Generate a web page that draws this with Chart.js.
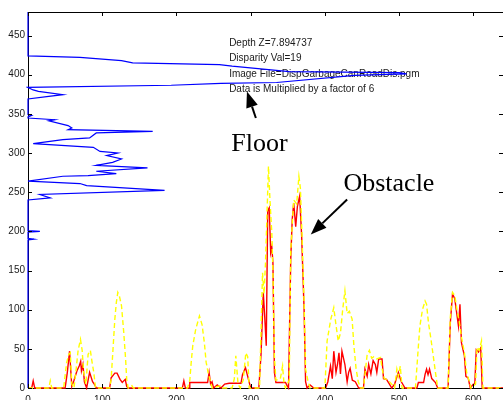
<!DOCTYPE html>
<html>
<head>
<meta charset="utf-8">
<script src="https://cdn.jsdelivr.net/npm/chart.js@4.4.1/dist/chart.umd.min.js"></script>
<style>
    html, body { margin: 0; padding: 0; background: #fff; }
    #wrap { width: 503px; height: 400px; }
</style>
</head>
<body>
<div id="wrap"><canvas id="profile-chart" width="503" height="400"></canvas></div>
<script>
/*************************/
/**   Data              **/
/*************************/

// blue profile: value per image row (drawn sideways)
var blueRows = [480, 424, 422, 418, 415, 412.7, 410.8, 404, 402.5, 401, 399, 390, 389, 386.5, 383.7,
    380.5, 378.6, 374.4, 372.3, 369, 349, 348, 346, 344.7, 342.5, 341, 335, 332, 329.8, 327.6,
    325.6, 319.2, 317, 312, 307.3, 302, 300, 296.7, 292.4, 288, 284.3, 281, 276.7, 273.7, 271,
    270.3, 264, 261, 258.4, 252.4, 247, 242.7, 240, 201, 200, 199, 191, 190, 189, 0];
var blueVals = [0, 0, 70, 126, 141, 258, 275, 352, 500, 510, 440, 335, 260, 193, 0,
    7, 14, 47, 28, 0, 0, 5, 0, 0, 36, 28, 54, 59, 54, 168,
    92, 83, 47, 7, 88, 97, 121, 106, 126, 114, 92, 161, 92, 119, 81,
    47, 0, 70, 79, 184, 16, 30, 0, 0, 16, 0, 0, 8, 0, 0];

// red profile (solid)
var redCols = [0, 5, 7, 9, 50, 53, 56, 59, 62, 66, 69, 71, 72, 74, 76, 79, 83, 87, 90, 92,
    110, 112, 117, 120, 124, 127, 131, 133, 135, 208, 210, 212, 217, 218, 242, 244, 246, 248, 250,
    255, 260, 265, 271, 287, 289, 293, 296, 300, 311, 314, 317, 319, 321, 323, 325, 327, 328.5,
    330, 332, 334, 347, 349, 351, 354, 356, 358, 360.7, 363, 366, 368.7, 372, 374, 376, 380, 385,
    401, 404, 407.6, 410, 412, 415, 417, 419, 421, 423, 427, 430, 432, 434, 437, 441, 445.6,
    452, 454, 457, 459, 462, 465, 468, 470, 472.5, 477, 479, 483, 487, 490, 494, 499, 503, 508,
    524, 526, 533, 535, 537, 539, 541, 544, 549, 552, 566, 569, 572, 575, 577, 580, 582, 584,
    588, 590, 593, 596, 600, 602, 604, 607, 610, 612, 640];
var redVals = [0, 0, 9, 0, 0, 20, 47, 2, 10, 22, 28, 34, 22, 30, 8, 0, 20, 8, 4, 0,
    0, 13, 19, 19, 11, 7, 11, 2, 0, 0, 9, 0, 0, 7, 7, 20, 5, 8, 0,
    4, 0, 5, 6, 6, 17, 26, 15, 0, 0, 43, 122, 90, 54, 226, 230, 173, 180,
    160, 20, 7, 7, 3, 0, 164, 215, 236, 206, 232, 245, 194, 100, 8, 0, 4, 0,
    0, 8, 28, 12, 47, 20, 30, 45, 18, 47, 30, 8, 20, 25, 10, 8, 0,
    0, 24, 15, 30, 18, 35, 30, 20, 37, 37, 12, 11, 5, 0, 5, 20, 8, 0,
    0, 7, 7, 17.5, 24, 17, 24, 12, 7, 0, 0, 83, 120, 114, 100, 79, 107, 58,
    41, 15, 13, 0, 5, 5, 49, 46, 51, 0, 0];

// yellow profile (dashed)
var yellowCols = [0, 28, 30, 32, 48, 52, 55, 57, 59, 62, 65, 67.5, 70.7, 73, 75, 78, 81, 84, 86, 88.6, 91,
    110, 112, 114.5, 117, 119, 121, 123, 126, 129, 131.5, 133, 135, 140, 142,
    215, 218, 220, 222, 226, 231, 234.5, 237.6, 240, 243, 246, 248, 260, 262,
    275, 278, 280, 283, 286, 290, 293.5, 296, 298, 312, 316, 318, 320, 324, 326, 328.5, 330, 332, 334,
    340, 343, 345, 347, 352, 354, 358, 362, 365, 367, 369, 372, 374, 377, 380,
    400, 403, 408, 412, 415, 418, 421, 424, 427, 430, 433, 436.7, 439, 442, 445, 448,
    452, 457, 460, 463, 466, 470, 475, 477, 480, 485, 490, 494, 497, 499, 501.6, 504,
    522, 526, 528, 531.5, 535, 537, 539.6, 543, 546, 549, 552,
    566, 569, 572, 575, 578, 581, 584, 588, 591, 594, 597, 603, 605, 608, 611, 613, 640];
var yellowVals = [0, 0, 9, 0, 0, 32, 43, 45, 5, 0, 25, 48, 62, 48, 20, 5, 43, 48, 35, 20, 0,
    0, 11, 49, 88, 109, 122, 118, 105, 71, 37, 11, 0, 3, 0,
    0, 10, 34, 54, 75, 92, 81, 58, 33, 18, 8, 0, 3, 0,
    0, 12, 41, 5, 0, 10, 45, 40, 0, 0, 147, 120, 160, 283, 240, 198, 150, 40, 10,
    12, 28, 5, 0, 10, 175, 240, 235, 270, 255, 200, 110, 24, 10, 0,
    0, 60, 88, 102.5, 80, 60, 70, 100, 124, 95, 98, 88, 55, 25, 8, 0,
    0, 43, 48, 38, 40, 37, 39, 25, 12, 10, 5, 0, 24, 15, 28, 0,
    0, 53.5, 79, 100, 111, 107, 83, 62, 41, 20, 0,
    0, 90, 122, 118, 100, 85, 65, 45, 20, 10, 0, 5, 52, 48, 60, 0, 0];

var xTicks = [0, 100, 200, 300, 400, 500, 600];
var yTicks = [0, 50, 100, 150, 200, 250, 300, 350, 400, 450];

var infoLines = ["Depth Z=7.894737", "Disparity Val=19",
    "Image File=DispGarbageCanRoadDis.pgm", "Data is Multiplied by a factor of 6"];

function toPoints(xs, ys) {
    return xs.map(function (v, i) { return { x: v, y: ys[i] }; });
}

/*************************/
/**   Plugins           **/
/*************************/

// text + arrows, placed in data units
var notes = {
    id: 'notes',
    beforeDatasetsDraw: function (chart) {
        var ctx = chart.ctx, x = chart.scales.x, y = chart.scales.y;
        ctx.save();
        ctx.fillStyle = '#1a1a1a';
        ctx.textBaseline = 'middle';
        ctx.font = '10px "Liberation Sans", Arial, sans-serif';
        var left = x.getPixelForValue(271);
        var top = y.getPixelForValue(440.7);
        infoLines.forEach(function (s, i) {
            ctx.fillText(s, left, top + i * 15.5);
        });
        ctx.fillStyle = '#000';
        ctx.textBaseline = 'alphabetic';
        ctx.font = '26px "Liberation Serif", "Times New Roman", serif';
        ctx.fillText('Floor', x.getPixelForValue(274), y.getPixelForValue(302));
        ctx.fillText('Obstacle', x.getPixelForValue(425), y.getPixelForValue(252));
        ctx.restore();
    },
    afterDatasetsDraw: function (chart) {
        var ctx = chart.ctx, x = chart.scales.x, y = chart.scales.y;
        function arrow(x0, y0, x1, y1) {
            var ax = x.getPixelForValue(x0), ay = y.getPixelForValue(y0);
            var bx = x.getPixelForValue(x1), by = y.getPixelForValue(y1);
            var ang = Math.atan2(by - ay, bx - ax);
            var hl = 16, hw = 6;
            var cx = bx - hl * Math.cos(ang), cy = by - hl * Math.sin(ang);
            ctx.beginPath();
            ctx.moveTo(ax, ay);
            ctx.lineTo(cx, cy);
            ctx.stroke();
            ctx.beginPath();
            ctx.moveTo(bx, by);
            ctx.lineTo(cx + hw * Math.sin(ang), cy - hw * Math.cos(ang));
            ctx.lineTo(cx - hw * Math.sin(ang), cy + hw * Math.cos(ang));
            ctx.closePath();
            ctx.fill();
        }
        ctx.save();
        ctx.strokeStyle = '#000';
        ctx.fillStyle = '#000';
        ctx.lineWidth = 2;
        arrow(307, 344.7, 295, 378.6);
        arrow(430, 240.6, 381, 196);
        ctx.restore();
    }
};

// matlab style box with inward ticks
var frameTicks = {
    id: 'frameTicks',
    afterDraw: function (chart) {
        var ctx = chart.ctx, a = chart.chartArea, x = chart.scales.x, y = chart.scales.y;
        ctx.save();
        ctx.strokeStyle = '#000';
        ctx.lineWidth = 1;
        ctx.beginPath();
        ctx.moveTo(a.left, a.top + 0.5);
        ctx.lineTo(a.right, a.top + 0.5);
        xTicks.forEach(function (t) {
            var px = Math.round(x.getPixelForValue(t)) + 0.5;
            ctx.moveTo(px, a.bottom);
            ctx.lineTo(px, a.bottom - 4);
            ctx.moveTo(px, a.top);
            ctx.lineTo(px, a.top + 4);
        });
        yTicks.forEach(function (t) {
            var py = Math.round(y.getPixelForValue(t)) + 0.5;
            ctx.moveTo(a.left, py);
            ctx.lineTo(a.left + 4, py);
            ctx.moveTo(a.right, py);
            ctx.lineTo(a.right - 4, py);
        });
        ctx.stroke();
        ctx.restore();
    }
};

/*************************/
/**   Chart             **/
/*************************/

var ctxP = document.getElementById("profile-chart").getContext('2d');
var myChart = new Chart(ctxP, {
    type: 'scatter',
    data: {
        datasets: [
            {
                data: toPoints(blueVals, blueRows),
                showLine: true,
                borderColor: '#0000ff',
                borderWidth: 1.2,
                pointRadius: 0,
                tension: 0,
                clip: { left: 2, right: 0, top: 0, bottom: 0 }
            },
            {
                data: toPoints(yellowCols, yellowVals),
                showLine: true,
                borderColor: '#ffff00',
                borderWidth: 1.4,
                borderDash: [5, 3],
                pointRadius: 0,
                tension: 0,
                clip: { left: 0, right: 0, top: 0, bottom: 2 }
            },
            {
                data: toPoints(redCols, redVals),
                showLine: true,
                borderColor: '#ff0000',
                borderWidth: 1.4,
                pointRadius: 0,
                tension: 0,
                clip: { left: 0, right: 0, top: 0, bottom: 2 }
            }
        ]
    },
    options: {
        responsive: false,
        animation: false,
        layout: { padding: { top: 12, right: 0, left: 0, bottom: 0 } },
        plugins: {
            legend: { display: false },
            tooltip: { enabled: false }
        },
        scales: {
            x: {
                type: 'linear',
                min: 0,
                max: 640,
                afterFit: function (s) { s.height = 12; },
                afterBuildTicks: function (s) { s.ticks = xTicks.map(function (v) { return { value: v }; }); },
                grid: { display: false, drawTicks: false },
                border: { display: true, color: '#000', width: 1 },
                ticks: {
                    padding: 6,
                    maxRotation: 0,
                    autoSkip: false,
                    color: '#1a1a1a',
                    font: { family: '"Liberation Sans", Arial, sans-serif', size: 10 }
                }
            },
            y: {
                type: 'linear',
                min: 0,
                max: 480,
                afterFit: function (s) { s.width = 28; },
                afterBuildTicks: function (s) { s.ticks = yTicks.map(function (v) { return { value: v }; }); },
                grid: { display: false, drawTicks: false },
                border: { display: true, color: '#000', width: 1 },
                ticks: {
                    padding: 3,
                    autoSkip: false,
                    color: '#1a1a1a',
                    font: { family: '"Liberation Sans", Arial, sans-serif', size: 10 }
                }
            }
        }
    },
    plugins: [notes, frameTicks]
});
</script>
</body>
</html>
